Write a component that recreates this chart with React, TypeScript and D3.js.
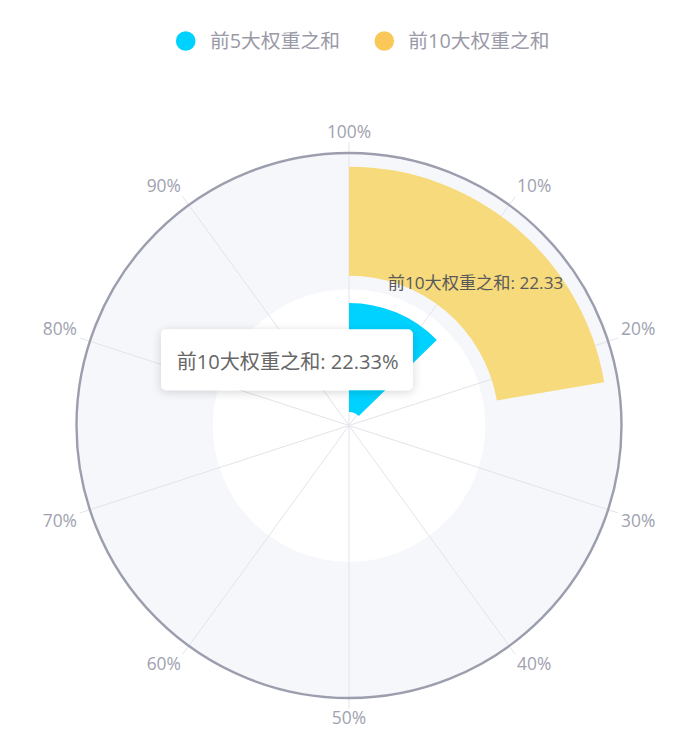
import React from "react";
import * as d3 from "d3";

const categories = ["前5大权重之和", "前10大权重之和"];
const seriesValues = [12.7, 22.33];
const seriesColors = ["#00d2ff", "#fac858"];
const barColors = ["#00d2ff", "#f6da7c"];
const angleTicks = [0, 10, 20, 30, 40, 50, 60, 70, 80, 90];
const angleTickLabels = ["100%", "10%", "20%", "30%", "40%", "50%", "60%", "70%", "80%", "90%"];
const tooltipText = "前10大权重之和: 22.33%";
const labelText = "前10大权重之和: 22.33";

const W = 700;
const H = 746;
const CX = 349;
const CY = 425.5;
const R = 272.5;
const FONT = "'Open Sans', 'Noto Sans CJK SC', sans-serif";

export default function App() {
  const angle = d3.scaleLinear().domain([0, 100]).range([0, 2 * Math.PI]);
  const radius = d3.scaleBand<string>().domain(categories).range([0, R]).paddingInner(0.2).paddingOuter(0.1);
  const band = d3.scaleBand<string>().domain(categories).range([0, R]);

  const pt = (a: number, r: number) => [CX + r * Math.sin(a), CY - r * Math.cos(a)];

  const arc = d3.arc<any>();

  const bars = categories.map((c, i) => {
    const inner = radius(c)!;
    const outer = inner + radius.bandwidth();
    return {
      d: arc({ innerRadius: inner, outerRadius: outer, startAngle: 0, endAngle: angle(seriesValues[i]) })!,
      color: barColors[i],
      inner,
      outer,
    };
  });

  const lb = bars[1];
  const lp = pt(angle(seriesValues[1] * 0.52), lb.inner + (lb.outer - lb.inner) * 0.38);

  return (
    <svg width={W} height={H} style={{ position: "absolute", left: 0, top: 0, background: "#fff" }} fontFamily={FONT}>
      <defs>
        <filter id="shadow" x="-20%" y="-40%" width="140%" height="180%">
          <feDropShadow dx="0" dy="2" stdDeviation="5" floodColor="#000" floodOpacity="0.16" />
        </filter>
      </defs>
      {/* legend */}
      <g>
        <circle cx={185.7} cy={41} r={9.8} fill={seriesColors[0]} />
        <text x={210} y={48} fontSize={19.8} fill="#9a9aa8">{categories[0]}</text>
        <circle cx={384.3} cy={41} r={9.8} fill={seriesColors[1]} />
        <text x={408.3} y={48} fontSize={19.8} fill="#9a9aa8">{categories[1]}</text>
      </g>
      {/* split areas */}
      {categories.map((c, i) => (
        <path
          key={c}
          transform={`translate(${CX},${CY})`}
          d={arc({ innerRadius: band(c)!, outerRadius: band(c)! + band.bandwidth(), startAngle: 0, endAngle: 2 * Math.PI })!}
          fill={i === 0 ? "#ffffff" : "#f6f7fb"}
        />
      ))}
      {/* split lines + ticks */}
      {angleTicks.map((t) => {
        const [x2, y2] = pt(angle(t), R + 10.5);
        return <line key={t} x1={CX} y1={CY} x2={x2} y2={y2} stroke="#e2e4eb" strokeWidth={1} />;
      })}
      {/* bars */}
      {bars.map((b, i) => (
        <path key={i} transform={`translate(${CX},${CY})`} d={b.d} fill={b.color} />
      ))}
      {/* axis line */}
      <circle cx={CX} cy={CY} r={R} fill="none" stroke="#9c9eae" strokeWidth={2.4} />
      {/* angle labels */}
      {angleTicks.map((t, i) => {
        const a = angle(t);
        const [x, y] = pt(a, R + 13.5);
        const dx = Math.sin(a);
        const dy = -Math.cos(a);
        const anchor = Math.abs(dx) < 1e-4 ? "middle" : dx > 0 ? "start" : "end";
        const by = Math.abs(dy) < 1e-4 ? y + 6 : dy > 0 ? y + 12.8 : y - 2;
        return (
          <text key={t} x={x} y={by} textAnchor={anchor} fontSize={17.4} fill="#a0a2b0">
            {angleTickLabels[i]}
          </text>
        );
      })}
      {/* data label */}
      <text x={lp[0] - 1} y={lp[1] + 6} textAnchor="middle" fontSize={17.2} fill="#595959">
        {labelText}
      </text>
      {/* tooltip */}
      <g filter="url(#shadow)">
        <rect x={161} y={329.3} width={252} height={61} rx={5} fill="#fff" />
      </g>
      <text x={176.7} y={368.5} fontSize={20.1} fill="#666">
        {tooltipText}
      </text>
    </svg>
  );
}
